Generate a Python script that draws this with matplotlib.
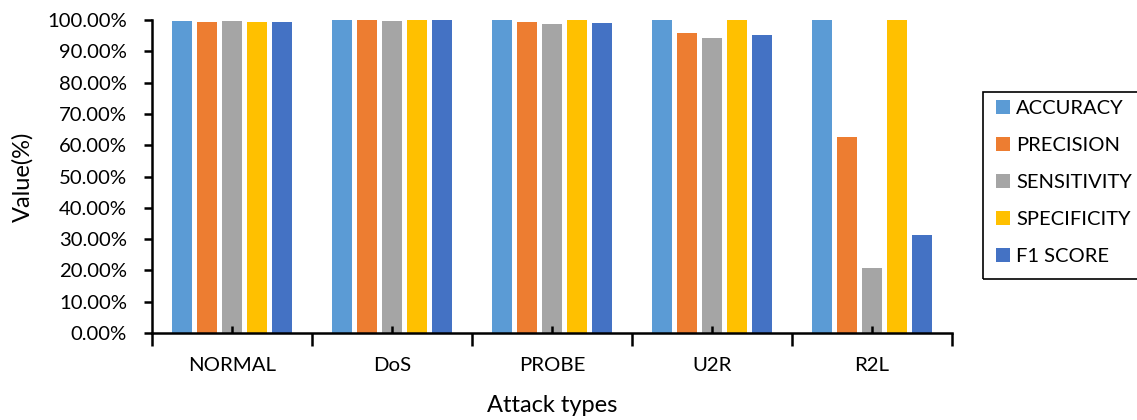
import numpy as np
import matplotlib
matplotlib.use('Agg')
import matplotlib.pyplot as plt
from matplotlib.patches import Rectangle
from matplotlib.ticker import FuncFormatter, FixedLocator

plt.rcParams['font.family'] = ['Lato', 'DejaVu Sans']

attack_types = ['NORMAL', 'DoS', 'PROBE', 'U2R', 'R2L']
metrics = ['ACCURACY', 'PRECISION', 'SENSITIVITY', 'SPECIFICITY', 'F1 SCORE']

accuracy    = [99.6, 99.9, 99.9, 99.9, 99.9]
precision   = [99.3, 99.9, 99.5, 95.8, 62.6]
sensitivity = [99.7, 99.8, 98.9, 94.4, 20.9]
specificity = [99.3, 100.0, 100.0, 100.0, 100.0]
f1_score    = [99.5, 99.9, 99.2, 95.2, 31.2]

colors = ['#5B9BD5', '#ED7D31', '#A5A5A5', '#FFC000', '#4472C4']

series = [accuracy, precision, sensitivity, specificity, f1_score]

W, H = 1137, 420
fig = plt.figure(figsize=(W / 100, H / 100), dpi=100)
ax = fig.add_axes([0.1337, 0.207, 0.7036, 0.745])

x = np.arange(len(attack_types))
pitch = 0.156
for k, (name, vals) in enumerate(zip(metrics, series)):
    ax.bar(x + (k - 2) * pitch, vals, 0.125, color=colors[k], label=name)

ax.set_xlim(-0.5, len(attack_types) - 0.5)
ax.set_ylim(0, 100)
ax.set_yticks(np.arange(0, 101, 10))
ax.yaxis.set_major_formatter(FuncFormatter(lambda v, _: f'{v:.2f}%'))

# category labels at centers, boundary ticks outward, small center ticks inward
ax.set_xticks(np.arange(-0.5, len(attack_types), 1.0))
ax.set_xticklabels([])
ax.xaxis.set_minor_locator(FixedLocator(x))
ax.set_xticklabels(attack_types, minor=True)
ax.tick_params(axis='x', which='major', direction='out', length=9, width=1.8)
ax.tick_params(axis='x', which='minor', direction='in', length=5, width=1.8,
               labelsize=14.7, pad=17)
ax.tick_params(axis='y', direction='out', length=6, width=1.8, labelsize=14.6, pad=12)

for side in ('top', 'right'):
    ax.spines[side].set_visible(False)
for side in ('left', 'bottom'):
    ax.spines[side].set_linewidth(1.8)

ax.set_ylabel('Value(%)', fontsize=17, labelpad=10)
ax.set_xlabel('Attack types', fontsize=17, labelpad=15)

# legend without its own frame; box drawn separately so it runs off the right edge
ax.legend(loc='upper left', bbox_to_anchor=(996 / W, 1 - 100 / H),
          bbox_transform=fig.transFigure, fontsize=14.5, frameon=False,
          handlelength=0.7, handleheight=0.7, handletextpad=0.3,
          labelspacing=0.99, borderpad=0, borderaxespad=0)
fig.add_artist(Rectangle((983 / W, 1 - 279 / H), 160 / W, 187 / H,
                         transform=fig.transFigure, fill=False,
                         edgecolor='black', linewidth=1.2))

fig.savefig('out.png', dpi=100)
